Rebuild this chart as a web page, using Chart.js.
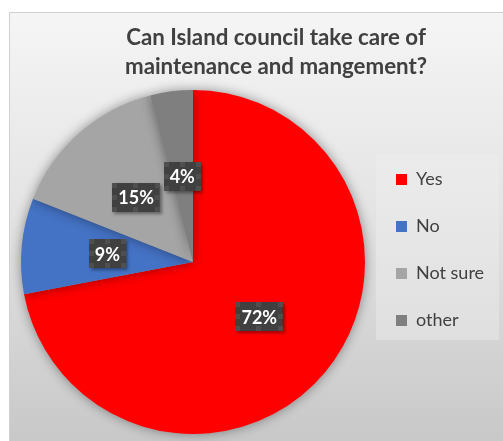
<!DOCTYPE html>
<html>
<head>
<meta charset="utf-8">
<script src="https://cdn.jsdelivr.net/npm/chart.js@4.4.1/dist/chart.umd.min.js"></script>
<style>
  html, body { margin: 0; padding: 0; background: #fff; overflow: hidden; width: 503px; height: 441px; }
  #frame {
    position: absolute; left: 9px; top: 12px; width: 532px; height: 430px;
    border: 1px solid #d0d0d0;
    background: linear-gradient(#f5f5f5 0%, #e4e4e4 45%, #c8c8c8 100%);
  }
  canvas { display: block; }
</style>
</head>
<body>
<div id="frame"><canvas id="pie" width="532" height="430"></canvas></div>
<script>
// Données
const TITLE = ['Can Island council take care of', 'maintenance and mangement?'];
const answers = ['Yes', 'No', 'Not sure', 'other'];
const shares = [72, 9, 15, 4];
const sliceColors = ['#FF0000', '#4472C4', '#A5A5A5', '#7F7F7F'];

const FONT = 'Lato';

// Place le camembert et la légende comme dans l'original Excel
const layoutFix = {
  id: 'layoutFix',
  afterLayout(chart) {
    const a = chart.chartArea;
    a.left = 11; a.right = 355; a.top = 77; a.bottom = 421;
    a.width = a.right - a.left; a.height = a.bottom - a.top;

    const lg = chart.legend;
    const pad = lg.options.labels.padding;
    const itemH = lg.options.labels.font.size;
    lg.left = 386 - pad;
    lg.top = 166.5 - pad - itemH / 2;
    lg.width = 130; lg.height = 220;
    lg.right = lg.left + lg.width; lg.bottom = lg.top + lg.height;
  },
};

// Fond du cadre de légende
const legendPanel = {
  id: 'legendPanel',
  beforeDraw(chart) {
    const ctx = chart.ctx;
    ctx.save();
    ctx.fillStyle = 'rgba(240,240,240,.4)';
    ctx.fillRect(366, 142, 123, 185);
    ctx.restore();
  },
};

// Ombre douce autour du camembert
const pieShadow = {
  id: 'pieShadow',
  beforeDatasetsDraw(chart) {
    const ctx = chart.ctx;
    ctx.save();
    ctx.shadowColor = 'rgba(0,0,0,.4)';
    ctx.shadowBlur = 12;
  },
  afterDatasetsDraw(chart) {
    chart.ctx.restore();
  },
};

// Étiquettes "xx%" sur fond sombre
const valueLabels = {
  id: 'valueLabels',
  afterDraw(chart) {
    const ctx = chart.ctx;
    const meta = chart.getDatasetMeta(0);
    ctx.save();
    ctx.font = `bold 18px ${FONT}`;
    ctx.textAlign = 'center';
    ctx.textBaseline = 'middle';
    meta.data.forEach((arc, i) => {
      const { x, y } = arc.tooltipPosition();
      const txt = shares[i] + '%';
      const w = ctx.measureText(txt).width + 12, h = 29;
      const bx = Math.round(x - w / 2), by = Math.round(y - h / 2);
      ctx.save();
      ctx.shadowColor = 'rgba(0,0,0,.4)';
      ctx.shadowBlur = 3; ctx.shadowOffsetX = 2; ctx.shadowOffsetY = 2;
      ctx.fillStyle = '#404040';
      ctx.fillRect(bx, by, w, h);
      ctx.restore();
      // poignées de sélection
      ctx.fillStyle = '#4f4f4f';
      const s = 5;
      [[0, 0], [0.5, 0], [1, 0], [0, 0.5], [1, 0.5], [0, 1], [0.5, 1], [1, 1]].forEach(([fx, fy]) => {
        ctx.fillRect(Math.round(bx + fx * (w - s)), Math.round(by + fy * (h - s)), s, s);
      });
      ctx.fillStyle = '#ffffff';
      ctx.fillText(txt, x, y + 1);
    });
    ctx.restore();
  },
};

new Chart(document.getElementById('pie'), {
  type: 'pie',
  data: {
    labels: answers,
    datasets: [{
      data: shares,
      backgroundColor: sliceColors,
      borderWidth: 0,
      clip: false,
    }],
  },
  options: {
    responsive: false,
    animation: false,
    plugins: {
      title: {
        display: true,
        text: TITLE,
        color: '#404040',
        font: { family: FONT, size: 22.3, weight: 'bold', lineHeight: 1.3 },
        padding: { top: 10, bottom: 0 },
      },
      legend: {
        position: 'right',
        align: 'start',
        labels: {
          boxWidth: 11, boxHeight: 11, padding: 29,
          color: '#404040',
          font: { family: FONT, size: 18 },
        },
      },
      tooltip: { enabled: false },
    },
  },
  plugins: [layoutFix, legendPanel, pieShadow, valueLabels],
});
</script>
</body>
</html>
